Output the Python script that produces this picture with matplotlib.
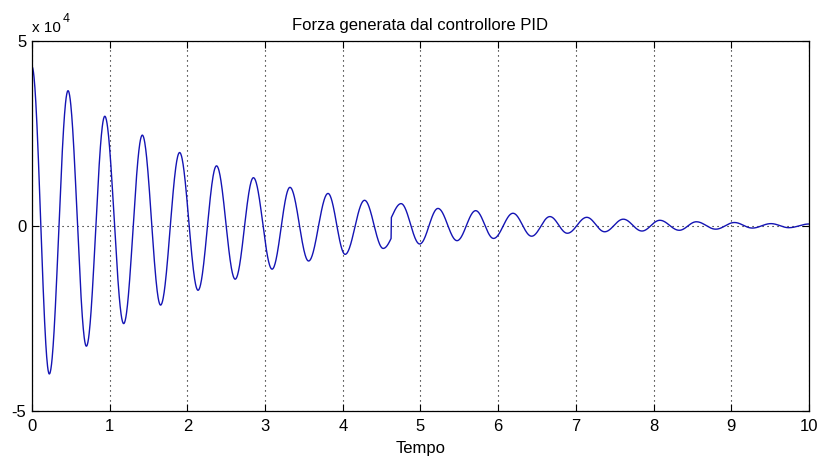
import numpy as np
import matplotlib.pyplot as plt

# extrema of the PID force (time [s], force [N])
t_ext = [0.0, 0.223, 0.464, 0.70, 0.937, 1.18, 1.42, 1.655, 1.90, 2.137,
         2.375, 2.615, 2.85, 3.09, 3.32, 3.56, 3.81, 4.03, 4.28, 4.52,
         4.75, 4.99, 5.225, 5.47, 5.71, 5.94, 6.19, 6.43, 6.665, 6.89,
         7.14, 7.37, 7.61, 7.85, 8.08, 8.33, 8.55, 8.80, 9.04, 9.27,
         9.51, 9.74, 10.0]
f_ext = [43000, -40000, 36500, -32500, 29600, -26400, 24500, -21400, 19800, -17400,
         16200, -14400, 13000, -11700, 10400, -9500, 8750, -7700, 6900, -6100,
         6000, -4900, 4700, -4000, 4100, -3400, 3400, -2800, 2500, -2000,
         2300, -1600, 1800, -1400, 1500, -1200, 1100, -900, 900, -600,
         600, -500, 500]

# small step in the signal near t = 4.6 s
glitch_t = 4.625
glitch_jump = 5500

# smooth half-cosine arcs between consecutive extrema
t_curve, f_curve = [], []
for i in range(len(t_ext) - 1):
    t0, t1 = t_ext[i], t_ext[i + 1]
    f0, f1 = f_ext[i], f_ext[i + 1]
    tt = np.linspace(t0, t1, 60)
    s = (1 - np.cos(np.pi * (tt - t0) / (t1 - t0))) / 2
    if t0 < glitch_t < t1:
        lo = f0 + s * (f1 - glitch_jump - f0)
        hi = f0 + glitch_jump + s * (f1 - f0 - glitch_jump)
        ff = np.where(tt < glitch_t, lo, hi)
    else:
        ff = f0 + s * (f1 - f0)
    t_curve.extend(tt)
    f_curve.extend(ff)

plt.rcParams['font.family'] = ['Liberation Sans', 'DejaVu Sans']
plt.rcParams['font.size'] = 12

fig = plt.figure(figsize=(8.2, 4.61), dpi=100)
ax = fig.add_axes([0.039, 0.1085, 0.9476, 0.8032])

ax.plot(t_curve, f_curve, color='#1414b4', lw=1.0)

ax.set_xlim(0, 10)
ax.set_ylim(-50000, 50000)
ax.set_xticks(range(0, 11))
ax.set_yticks([-50000, 0, 50000])
ax.set_yticklabels(['-5', '0', '5'])
ax.tick_params(direction='in', length=5, top=True, right=True, width=0.8,
               labelsize=12)
ax.tick_params(axis='x', pad=6)
ax.tick_params(axis='y', pad=4)
ax.grid(True, color='black', linestyle=(0, (1, 3.5)), linewidth=0.8)
for sp in ax.spines.values():
    sp.set_linewidth(0.9)

ax.set_title('Forza generata dal controllore PID', fontsize=12, pad=8)
ax.set_xlabel('Tempo', fontsize=12, labelpad=5)
fig.text(0.039, 0.931, 'x 10', fontsize=11, ha='left', va='baseline')
fig.text(0.077, 0.952, '4', fontsize=9, ha='left', va='baseline')

fig.savefig('out.png', dpi=100)
